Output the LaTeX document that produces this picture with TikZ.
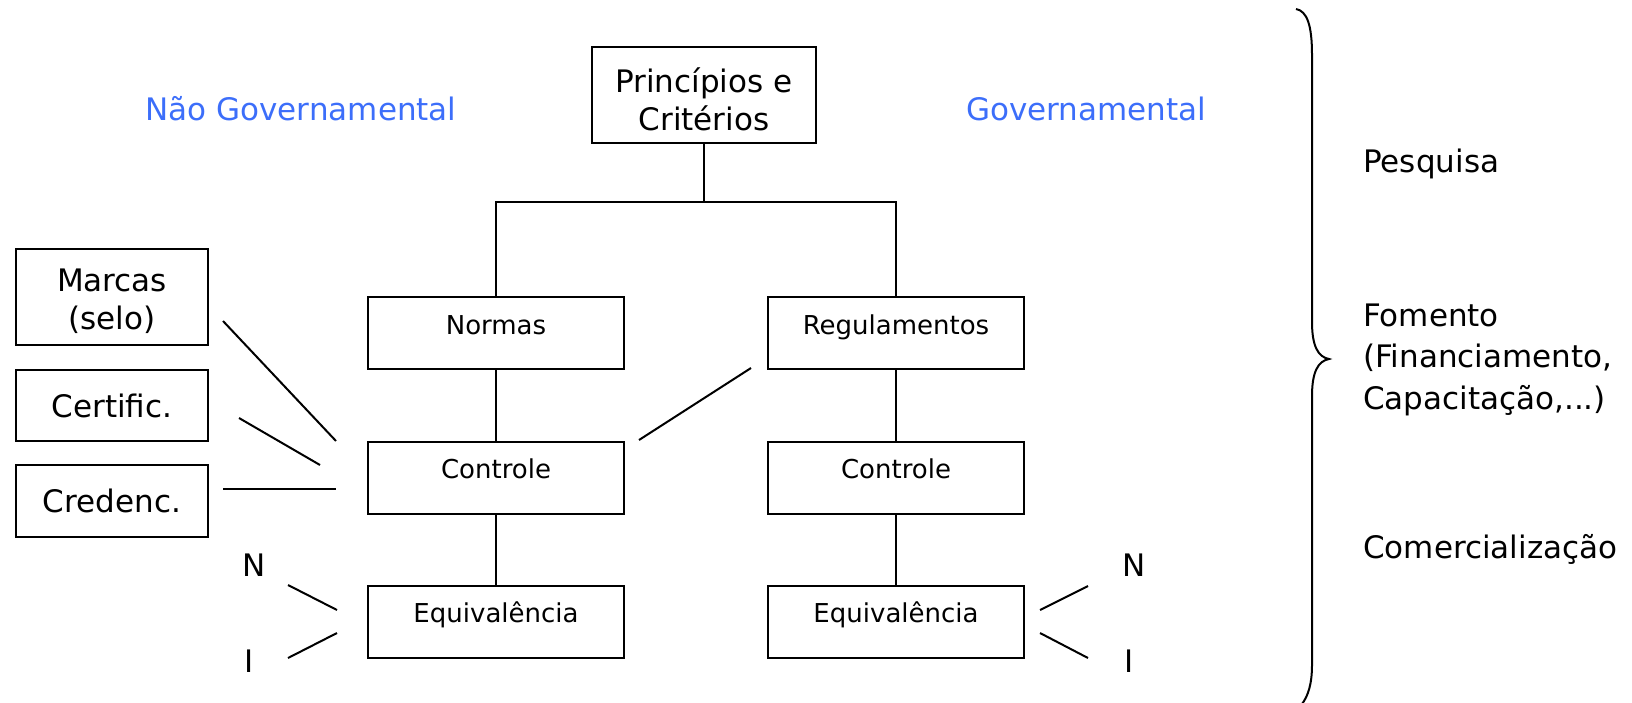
\documentclass[tikz,border=0pt]{standalone}
\usepackage{fontspec}
\setmainfont{DejaVu Sans}
\definecolor{govblue}{RGB}{60,110,250}
\begin{document}
\begin{tikzpicture}[x=1pt,y=-1pt,
  box/.style={draw, line width=2pt, inner sep=0pt, align=center},
  big/.style={font=\fontsize{31}{38}\selectfont},
  small/.style={font=\fontsize{26}{31}\selectfont},
  midbox/.style={box, small, minimum width=256pt, text height=37pt, text depth=35pt},
  leftbox/.style={box, big, minimum width=192pt},
  conn/.style={line width=2pt},
  lbl/.style={big, inner sep=0pt, anchor=base},
  side/.style={font=\fontsize{31}{41.5}\selectfont, inner sep=0pt, anchor=base west, align=left}]
\useasboundingbox (0,0) rectangle (1632,702);

% top box
\node[box,big,minimum width=224pt,text height=83pt,text depth=13pt] (princ) at (704,95) {Princípios e\\Critérios};

% middle columns
\node[midbox] (normas) at (496,333) {Normas};
\node[midbox] (reg) at (896,333) {Regulamentos};
\node[midbox] (ctrlL) at (496,477.5) {Controle};
\node[midbox] (ctrlR) at (896,477.5) {Controle};
\node[midbox] (eqL) at (496,621.5) {Equivalência};
\node[midbox] (eqR) at (896,621.5) {Equivalência};

% left boxes
\node[leftbox,text height=80pt,text depth=16pt] (marcas) at (112,297) {Marcas\\(selo)};
\node[leftbox,minimum height=71pt] (certif) at (112,405.5) {Certific.};
\node[leftbox,minimum height=72pt] (creden) at (112,501) {Credenc.};

% headings
\node[lbl,text=govblue] (ng) at (301,120) {Não Governamental};
\node[lbl,text=govblue] (gov) at (1086,120) {Governamental};

% N / I labels
\node[lbl] (nL) at (254,576) {N};
\node[lbl] (iL) at (249,672) {I};
\node[lbl] (nR) at (1134,576) {N};
\node[lbl] (iR) at (1129,672) {I};

% right side texts
\node[side] (pesq) at (1363,172) {Pesquisa};
\node[side] (fom) at (1363,409) {Fomento\\(Financiamento,\\Capacitação,...)};
\node[side] (com) at (1363,558) {Comercialização};

% tree connectors
\coordinate (split) at (704,202);
\draw[conn] (princ.south) -- (split);
\draw[conn] (normas.north) |- (split) -| (reg.north);
\draw[conn] (normas.south) -- (ctrlL.north);
\draw[conn] (ctrlL.south) -- (eqL.north);
\draw[conn] (reg.south) -- (ctrlR.north);
\draw[conn] (ctrlR.south) -- (eqR.north);

% free diagonal strokes
\coordinate (m1) at (223,321); \coordinate (m2) at (336,441);
\coordinate (c1) at (239,418); \coordinate (c2) at (320,465);
\coordinate (d1) at (223,489); \coordinate (d2) at (336,489);
\coordinate (r1) at (751,368); \coordinate (r2) at (639,440);
\draw[conn] (m1) -- (m2);
\draw[conn] (c1) -- (c2);
\draw[conn] (d1) -- (d2);
\draw[conn] (r1) -- (r2);

\coordinate (ln1) at (288,585); \coordinate (ln2) at (337,610);
\coordinate (li1) at (288,658); \coordinate (li2) at (337,633);
\coordinate (rn1) at (1040,610); \coordinate (rn2) at (1088,586);
\coordinate (ri1) at (1040,633); \coordinate (ri2) at (1088,658);
\draw[conn] (ln1) -- (ln2);
\draw[conn] (li1) -- (li2);
\draw[conn] (rn1) -- (rn2);
\draw[conn] (ri1) -- (ri2);

% brace
\draw[conn] (1296,9) .. controls (1307,11) and (1312,25) .. (1312,55)
  -- (1312,322) .. controls (1312,346) and (1318,357) .. (1329,359)
  .. controls (1318,361) and (1312,372) .. (1312,396)
  -- (1312,665) .. controls (1312,684) and (1308,696) .. (1302,704);
\end{tikzpicture}
\end{document}
